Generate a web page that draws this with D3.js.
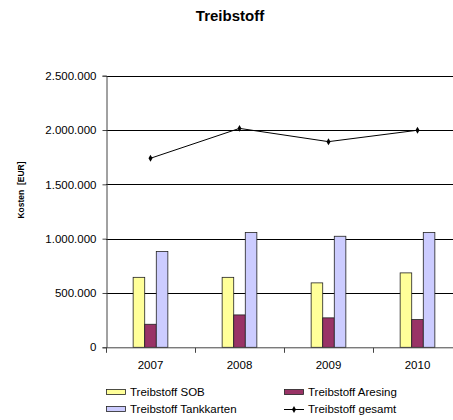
<!DOCTYPE html>
<html>
<head>
<meta charset="utf-8">
<script src="https://cdn.jsdelivr.net/npm/d3@7"></script>
<style>
  html, body { margin: 0; padding: 0; background: #fff; }
  svg { display: block; font-family: "Liberation Sans", Arial, sans-serif; }
</style>
</head>
<body>
<div id="chart"></div>
<script>
// Fuel costs per year (EUR)
const years = ["2007", "2008", "2009", "2010"];
const seriesNames = ["Treibstoff SOB", "Treibstoff Aresing", "Treibstoff Tankkarten"];
const sob = [644000, 644000, 593000, 685000];
const aresing = [212000, 298000, 271000, 255000];
const tankkarten = [881000, 1056000, 1022000, 1056000];
const gesamt = [1740000, 2015000, 1893000, 1998000];
const lineName = "Treibstoff gesamt";
const yTicks = [0, 500000, 1000000, 1500000, 2000000, 2500000];
const colors = ["#FFFF99", "#993366", "#CCCCFF"];

const W = 453, H = 420;
const plotLeft = 106, plotRight = 462, plotTop = 75.7, plotBottom = 347.3;

const svg = d3.select("#chart").append("svg")
  .attr("width", W).attr("height", H);

const x = d3.scaleBand().domain(years).range([plotLeft, plotRight]).padding(0);
const bw = x.bandwidth();
const xs = d3.scaleBand().domain(seriesNames).range([bw * 0.305, bw * 0.695]).padding(0);
const y = d3.scaleLinear().domain([0, 2500000]).range([plotBottom, plotTop]);

const de = d3.formatLocale({ decimal: ",", thousands: ".", grouping: [3], currency: ["", " €"] });
const fmt = de.format(",d");

// horizontal gridlines
svg.append("g")
  .selectAll("line").data(yTicks.filter(d => d > 0)).join("line")
  .attr("x1", plotLeft).attr("x2", plotRight)
  .attr("y1", d => Math.round(y(d)) + 0.5).attr("y2", d => Math.round(y(d)) + 0.5)
  .attr("stroke", "#000").attr("stroke-width", 1);

// bars
const values = [sob, aresing, tankkarten];
const groups = svg.append("g");
values.forEach((vals, si) => {
  groups.append("g").selectAll("rect").data(years).join("rect")
    .attr("x", (d) => x(d) + xs(seriesNames[si]))
    .attr("y", (d, i) => y(vals[i]))
    .attr("width", xs.bandwidth())
    .attr("height", (d, i) => y(0) - y(vals[i]))
    .attr("fill", colors[si])
    .attr("stroke", "#222").attr("stroke-width", 0.8);
});

// total line
const cx = d => x(d) + bw / 2;
svg.append("path")
  .datum(years)
  .attr("fill", "none").attr("stroke", "#000").attr("stroke-width", 1)
  .attr("d", d3.line().x(cx).y((d, i) => y(gesamt[i])));
svg.append("g").selectAll("path").data(years).join("path")
  .attr("transform", (d, i) => `translate(${cx(d)},${y(gesamt[i])})`)
  .attr("d", d3.symbol(d3.symbolDiamond, 14))
  .attr("fill", "#000");

// y axis
const yAxis = svg.append("g")
  .attr("transform", `translate(${plotLeft + 0.5},0)`)
  .call(d3.axisLeft(y).tickValues(yTicks).tickFormat(fmt).tickSizeOuter(0).tickSize(4).tickPadding(6));
yAxis.select(".domain").attr("stroke", "#444");
yAxis.selectAll(".tick line").attr("stroke", "#444");
yAxis.selectAll("text").attr("font-size", "11.5px").attr("fill", "#000")
  .attr("font-family", "Liberation Sans, Arial, sans-serif");

// x axis
const xAxis = svg.append("g")
  .attr("transform", `translate(0,${plotBottom + 0.5})`);
xAxis.append("line").attr("x1", plotLeft).attr("x2", plotRight).attr("stroke", "#444");
xAxis.selectAll("line.tk").data([...years.map(d => x(d)), plotRight]).join("line")
  .attr("class", "tk")
  .attr("x1", d => Math.round(d) + 0.5).attr("x2", d => Math.round(d) + 0.5)
  .attr("y1", 0).attr("y2", 5).attr("stroke", "#444");
xAxis.selectAll("text").data(years).join("text")
  .attr("x", d => cx(d)).attr("y", 21.5)
  .attr("text-anchor", "middle").attr("font-size", "11.5px")
  .text(d => d);

// title
svg.append("text").attr("x", 230).attr("y", 21)
  .attr("text-anchor", "middle").attr("font-size", "15px").attr("font-weight", "bold")
  .text("Treibstoff");

// y axis title
svg.append("text")
  .attr("transform", "translate(24,190) rotate(-90)")
  .attr("text-anchor", "middle").attr("font-size", "8.5px").attr("font-weight", "bold")
  .style("white-space", "pre")
  .text("Kosten  [EUR]");

// legend
const legendItems = [
  { name: seriesNames[0], type: "rect", color: colors[0], x: 106, y: 392 },
  { name: seriesNames[1], type: "rect", color: colors[1], x: 284, y: 392 },
  { name: seriesNames[2], type: "rect", color: colors[2], x: 106, y: 409 },
  { name: lineName, type: "line", color: "#000", x: 284, y: 409 }
];
const lg = svg.append("g");
legendItems.forEach(it => {
  const g = lg.append("g").attr("transform", `translate(${it.x},${it.y})`);
  if (it.type === "rect") {
    g.append("rect").attr("x", 0.5).attr("y", -2.5).attr("width", 19).attr("height", 5)
      .attr("fill", it.color).attr("stroke", "#222").attr("stroke-width", 0.8);
  } else {
    g.append("line").attr("x1", 0).attr("x2", 20).attr("y1", 0.5).attr("y2", 0.5)
      .attr("stroke", "#000");
    g.append("path").attr("transform", "translate(10,0.5)")
      .attr("d", d3.symbol(d3.symbolDiamond, 14)).attr("fill", "#000");
  }
  g.append("text").attr("x", 24).attr("y", 4).attr("font-size", "11.5px").text(it.name);
});
</script>
</body>
</html>
